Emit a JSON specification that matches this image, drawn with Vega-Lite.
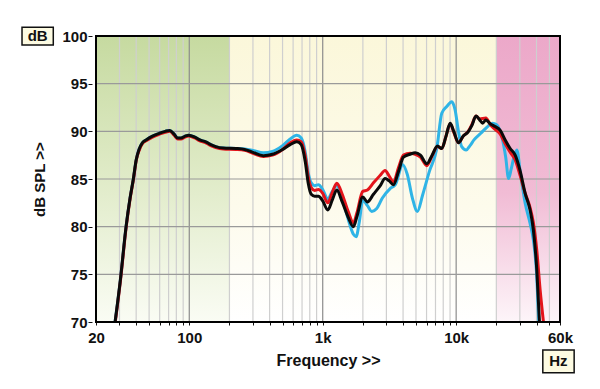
{
  "$schema": "https://vega.github.io/schema/vega-lite/v6.json",
  "width": 464,
  "height": 286,
  "autosize": {"type": "none"},
  "padding": {"left": 96, "top": 36, "right": 40, "bottom": 67},
  "background": "#ffffff",
  "config": {
    "view": {"stroke": null},
    "font": "Liberation Sans",
    "axis": {
      "labelFont": "Liberation Sans",
      "labelFontWeight": "bold",
      "labelFontSize": 15,
      "labelColor": "#111111",
      "titleFont": "Liberation Sans",
      "titleFontWeight": "bold",
      "titleFontSize": 15,
      "titleColor": "#111111",
      "grid": false,
      "domain": false,
      "tickColor": "#111111",
      "tickSize": 4
    }
  },
  "datasets": {
    "bands": [
      {"band": "green", "f0": 20, "f1": 200},
      {"band": "yellow", "f0": 200, "f1": 20000},
      {"band": "pink", "f0": 20000, "f1": 60000}
    ],
    "vgrid": [
      {"f": 30, "major": false}, {"f": 40, "major": false}, {"f": 50, "major": false}, {"f": 60, "major": false}, {"f": 70, "major": false}, {"f": 80, "major": false}, {"f": 90, "major": false},
      {"f": 100, "major": true},
      {"f": 200, "major": false}, {"f": 300, "major": false}, {"f": 400, "major": false}, {"f": 500, "major": false}, {"f": 600, "major": false}, {"f": 700, "major": false}, {"f": 800, "major": false}, {"f": 900, "major": false},
      {"f": 1000, "major": true},
      {"f": 2000, "major": false}, {"f": 3000, "major": false}, {"f": 4000, "major": false}, {"f": 5000, "major": false}, {"f": 6000, "major": false}, {"f": 7000, "major": false}, {"f": 8000, "major": false}, {"f": 9000, "major": false},
      {"f": 10000, "major": true},
      {"f": 20000, "major": false}, {"f": 30000, "major": false}, {"f": 40000, "major": false}, {"f": 50000, "major": false}
    ],
    "hgrid": [{"db": 75}, {"db": 80}, {"db": 85}, {"db": 90}, {"db": 95}],
    "curves": [
      {"s": "black", "f": 27.8, "db": 70}, {"s": "black", "f": 30.5, "db": 74.5}, {"s": "black", "f": 33.6, "db": 80}, {"s": "black", "f": 36, "db": 83}, {"s": "black", "f": 38.1, "db": 85}, {"s": "black", "f": 40, "db": 87}, {"s": "black", "f": 42, "db": 88.1}, {"s": "black", "f": 44.5, "db": 88.8}, {"s": "black", "f": 47.5, "db": 89.1}, {"s": "black", "f": 53, "db": 89.5}, {"s": "black", "f": 59.7, "db": 89.8}, {"s": "black", "f": 66, "db": 90.0}, {"s": "black", "f": 71.4, "db": 90.1}, {"s": "black", "f": 77, "db": 89.7}, {"s": "black", "f": 82, "db": 89.3}, {"s": "black", "f": 86.7, "db": 89.3}, {"s": "black", "f": 93, "db": 89.5}, {"s": "black", "f": 99, "db": 89.6}, {"s": "black", "f": 110, "db": 89.4}, {"s": "black", "f": 120, "db": 89.1}, {"s": "black", "f": 133, "db": 88.9}, {"s": "black", "f": 145, "db": 88.6}, {"s": "black", "f": 158, "db": 88.4}, {"s": "black", "f": 180, "db": 88.25}, {"s": "black", "f": 224, "db": 88.2}, {"s": "black", "f": 260, "db": 88.1}, {"s": "black", "f": 300, "db": 87.8}, {"s": "black", "f": 359, "db": 87.45}, {"s": "black", "f": 420, "db": 87.6}, {"s": "black", "f": 500, "db": 88.1}, {"s": "black", "f": 570, "db": 88.6}, {"s": "black", "f": 639, "db": 88.9}, {"s": "black", "f": 690, "db": 88.6}, {"s": "black", "f": 740, "db": 86.8}, {"s": "black", "f": 780, "db": 84.5}, {"s": "black", "f": 820, "db": 83.4}, {"s": "black", "f": 870, "db": 83.2}, {"s": "black", "f": 929, "db": 83.2}, {"s": "black", "f": 1000, "db": 82.7}, {"s": "black", "f": 1091, "db": 81.75}, {"s": "black", "f": 1180, "db": 82.8}, {"s": "black", "f": 1274, "db": 83.85}, {"s": "black", "f": 1400, "db": 82.6}, {"s": "black", "f": 1550, "db": 81.0}, {"s": "black", "f": 1698, "db": 80.0}, {"s": "black", "f": 1800, "db": 81.0}, {"s": "black", "f": 1995, "db": 83.1}, {"s": "black", "f": 2163, "db": 82.6}, {"s": "black", "f": 2400, "db": 83.4}, {"s": "black", "f": 2700, "db": 84.3}, {"s": "black", "f": 2933, "db": 85.05}, {"s": "black", "f": 3150, "db": 84.8}, {"s": "black", "f": 3388, "db": 84.4}, {"s": "black", "f": 3700, "db": 85.8}, {"s": "black", "f": 4027, "db": 87.3}, {"s": "black", "f": 4518, "db": 87.6}, {"s": "black", "f": 4924, "db": 87.75}, {"s": "black", "f": 5400, "db": 87.5}, {"s": "black", "f": 6026, "db": 86.6}, {"s": "black", "f": 6600, "db": 87.5}, {"s": "black", "f": 7244, "db": 88.45}, {"s": "black", "f": 7800, "db": 88.2}, {"s": "black", "f": 8400, "db": 89.5}, {"s": "black", "f": 9016, "db": 90.85}, {"s": "black", "f": 9600, "db": 90.0}, {"s": "black", "f": 10400, "db": 88.8}, {"s": "black", "f": 11300, "db": 89.5}, {"s": "black", "f": 12300, "db": 89.95}, {"s": "black", "f": 13100, "db": 90.6}, {"s": "black", "f": 14100, "db": 91.6}, {"s": "black", "f": 15000, "db": 91.2}, {"s": "black", "f": 15800, "db": 90.85}, {"s": "black", "f": 16700, "db": 91.2}, {"s": "black", "f": 18000, "db": 90.8}, {"s": "black", "f": 19600, "db": 90.5}, {"s": "black", "f": 21400, "db": 90.1}, {"s": "black", "f": 23300, "db": 89.1}, {"s": "black", "f": 25400, "db": 88.2}, {"s": "black", "f": 27700, "db": 87.5}, {"s": "black", "f": 30100, "db": 85.9}, {"s": "black", "f": 32900, "db": 83.5}, {"s": "black", "f": 35800, "db": 81.75}, {"s": "black", "f": 37900, "db": 79.65}, {"s": "black", "f": 40200, "db": 75.45}, {"s": "black", "f": 42100, "db": 70},

      {"s": "red", "f": 27.9, "db": 70}, {"s": "red", "f": 30.6, "db": 74.5}, {"s": "red", "f": 33.7, "db": 80}, {"s": "red", "f": 36.1, "db": 83}, {"s": "red", "f": 38.2, "db": 85}, {"s": "red", "f": 40.1, "db": 87}, {"s": "red", "f": 42.1, "db": 88.0}, {"s": "red", "f": 44.5, "db": 88.7}, {"s": "red", "f": 47.5, "db": 89.0}, {"s": "red", "f": 53, "db": 89.4}, {"s": "red", "f": 59.7, "db": 89.7}, {"s": "red", "f": 66, "db": 89.9}, {"s": "red", "f": 71.4, "db": 90.0}, {"s": "red", "f": 77, "db": 89.6}, {"s": "red", "f": 82, "db": 89.2}, {"s": "red", "f": 86.7, "db": 89.2}, {"s": "red", "f": 93, "db": 89.4}, {"s": "red", "f": 99, "db": 89.5}, {"s": "red", "f": 110, "db": 89.3}, {"s": "red", "f": 120, "db": 89.0}, {"s": "red", "f": 133, "db": 88.8}, {"s": "red", "f": 145, "db": 88.5}, {"s": "red", "f": 158, "db": 88.3}, {"s": "red", "f": 180, "db": 88.15}, {"s": "red", "f": 224, "db": 88.1}, {"s": "red", "f": 260, "db": 88.0}, {"s": "red", "f": 300, "db": 87.7}, {"s": "red", "f": 359, "db": 87.35}, {"s": "red", "f": 420, "db": 87.5}, {"s": "red", "f": 500, "db": 88.1}, {"s": "red", "f": 570, "db": 88.8}, {"s": "red", "f": 639, "db": 89.1}, {"s": "red", "f": 690, "db": 88.9}, {"s": "red", "f": 740, "db": 87.4}, {"s": "red", "f": 780, "db": 85.2}, {"s": "red", "f": 820, "db": 84.1}, {"s": "red", "f": 870, "db": 83.8}, {"s": "red", "f": 929, "db": 83.9}, {"s": "red", "f": 1000, "db": 83.5}, {"s": "red", "f": 1091, "db": 82.5}, {"s": "red", "f": 1180, "db": 83.6}, {"s": "red", "f": 1274, "db": 84.55}, {"s": "red", "f": 1400, "db": 83.4}, {"s": "red", "f": 1550, "db": 81.6}, {"s": "red", "f": 1698, "db": 80.4}, {"s": "red", "f": 1800, "db": 81.4}, {"s": "red", "f": 1995, "db": 83.7}, {"s": "red", "f": 2163, "db": 83.85}, {"s": "red", "f": 2400, "db": 84.6}, {"s": "red", "f": 2700, "db": 85.4}, {"s": "red", "f": 2933, "db": 85.9}, {"s": "red", "f": 3150, "db": 85.3}, {"s": "red", "f": 3388, "db": 84.7}, {"s": "red", "f": 3700, "db": 86.2}, {"s": "red", "f": 4027, "db": 87.5}, {"s": "red", "f": 4518, "db": 87.7}, {"s": "red", "f": 4924, "db": 87.6}, {"s": "red", "f": 5400, "db": 87.3}, {"s": "red", "f": 6026, "db": 86.4}, {"s": "red", "f": 6600, "db": 87.4}, {"s": "red", "f": 7244, "db": 88.4}, {"s": "red", "f": 7800, "db": 88.2}, {"s": "red", "f": 8400, "db": 89.5}, {"s": "red", "f": 9016, "db": 90.8}, {"s": "red", "f": 9600, "db": 89.9}, {"s": "red", "f": 10400, "db": 88.8}, {"s": "red", "f": 11300, "db": 89.5}, {"s": "red", "f": 12300, "db": 90.0}, {"s": "red", "f": 13100, "db": 90.7}, {"s": "red", "f": 14100, "db": 91.6}, {"s": "red", "f": 15000, "db": 91.3}, {"s": "red", "f": 16700, "db": 91.4}, {"s": "red", "f": 18000, "db": 90.7}, {"s": "red", "f": 19600, "db": 90.2}, {"s": "red", "f": 21400, "db": 89.7}, {"s": "red", "f": 23300, "db": 88.7}, {"s": "red", "f": 25400, "db": 87.8}, {"s": "red", "f": 27700, "db": 87.0}, {"s": "red", "f": 30100, "db": 85.4}, {"s": "red", "f": 32900, "db": 83.5}, {"s": "red", "f": 35800, "db": 82.0}, {"s": "red", "f": 37900, "db": 80.4}, {"s": "red", "f": 40200, "db": 77.5}, {"s": "red", "f": 42600, "db": 73.35}, {"s": "red", "f": 45100, "db": 70},

      {"s": "cyan", "f": 27.8, "db": 70}, {"s": "cyan", "f": 30.5, "db": 74.5}, {"s": "cyan", "f": 33.6, "db": 80}, {"s": "cyan", "f": 36, "db": 83}, {"s": "cyan", "f": 38.1, "db": 85}, {"s": "cyan", "f": 40, "db": 87}, {"s": "cyan", "f": 42, "db": 88.1}, {"s": "cyan", "f": 44.5, "db": 88.8}, {"s": "cyan", "f": 47.5, "db": 89.1}, {"s": "cyan", "f": 53, "db": 89.5}, {"s": "cyan", "f": 59.7, "db": 89.8}, {"s": "cyan", "f": 66, "db": 90.0}, {"s": "cyan", "f": 71.4, "db": 90.1}, {"s": "cyan", "f": 77, "db": 89.7}, {"s": "cyan", "f": 82, "db": 89.3}, {"s": "cyan", "f": 86.7, "db": 89.3}, {"s": "cyan", "f": 93, "db": 89.5}, {"s": "cyan", "f": 99, "db": 89.6}, {"s": "cyan", "f": 110, "db": 89.4}, {"s": "cyan", "f": 120, "db": 89.1}, {"s": "cyan", "f": 133, "db": 88.9}, {"s": "cyan", "f": 145, "db": 88.6}, {"s": "cyan", "f": 158, "db": 88.4}, {"s": "cyan", "f": 180, "db": 88.25}, {"s": "cyan", "f": 224, "db": 88.2}, {"s": "cyan", "f": 260, "db": 88.15}, {"s": "cyan", "f": 300, "db": 88.0}, {"s": "cyan", "f": 359, "db": 87.75}, {"s": "cyan", "f": 420, "db": 87.9}, {"s": "cyan", "f": 500, "db": 88.5}, {"s": "cyan", "f": 570, "db": 89.2}, {"s": "cyan", "f": 639, "db": 89.6}, {"s": "cyan", "f": 690, "db": 89.3}, {"s": "cyan", "f": 740, "db": 87.8}, {"s": "cyan", "f": 780, "db": 85.6}, {"s": "cyan", "f": 820, "db": 84.6}, {"s": "cyan", "f": 870, "db": 84.3}, {"s": "cyan", "f": 929, "db": 84.4}, {"s": "cyan", "f": 1000, "db": 83.9}, {"s": "cyan", "f": 1091, "db": 82.9}, {"s": "cyan", "f": 1180, "db": 83.7}, {"s": "cyan", "f": 1274, "db": 84.3}, {"s": "cyan", "f": 1400, "db": 83.0}, {"s": "cyan", "f": 1550, "db": 80.8}, {"s": "cyan", "f": 1698, "db": 79.2}, {"s": "cyan", "f": 1780, "db": 78.95}, {"s": "cyan", "f": 1880, "db": 80.5}, {"s": "cyan", "f": 1995, "db": 82.8}, {"s": "cyan", "f": 2163, "db": 82.2}, {"s": "cyan", "f": 2330, "db": 81.6}, {"s": "cyan", "f": 2540, "db": 81.9}, {"s": "cyan", "f": 2800, "db": 83.0}, {"s": "cyan", "f": 3200, "db": 84.0}, {"s": "cyan", "f": 3500, "db": 84.4}, {"s": "cyan", "f": 3980, "db": 86.5}, {"s": "cyan", "f": 4300, "db": 85.5}, {"s": "cyan", "f": 4700, "db": 83.0}, {"s": "cyan", "f": 5120, "db": 81.6}, {"s": "cyan", "f": 5600, "db": 83.3}, {"s": "cyan", "f": 6300, "db": 85.8}, {"s": "cyan", "f": 7160, "db": 88.2}, {"s": "cyan", "f": 7800, "db": 91.9}, {"s": "cyan", "f": 8500, "db": 92.6}, {"s": "cyan", "f": 9270, "db": 93.1}, {"s": "cyan", "f": 9800, "db": 92.3}, {"s": "cyan", "f": 10400, "db": 90.0}, {"s": "cyan", "f": 11000, "db": 88.4}, {"s": "cyan", "f": 11900, "db": 88.05}, {"s": "cyan", "f": 12700, "db": 88.5}, {"s": "cyan", "f": 13600, "db": 89.1}, {"s": "cyan", "f": 15300, "db": 89.8}, {"s": "cyan", "f": 17200, "db": 90.5}, {"s": "cyan", "f": 18700, "db": 90.85}, {"s": "cyan", "f": 20100, "db": 90.7}, {"s": "cyan", "f": 22100, "db": 89.3}, {"s": "cyan", "f": 23500, "db": 87.3}, {"s": "cyan", "f": 24700, "db": 85.05}, {"s": "cyan", "f": 25800, "db": 86.0}, {"s": "cyan", "f": 27000, "db": 87.2}, {"s": "cyan", "f": 28500, "db": 88.05}, {"s": "cyan", "f": 30300, "db": 85.6}, {"s": "cyan", "f": 32900, "db": 82.45}, {"s": "cyan", "f": 35800, "db": 80.35}, {"s": "cyan", "f": 37900, "db": 78.6}, {"s": "cyan", "f": 40200, "db": 74.75}, {"s": "cyan", "f": 41600, "db": 70}
    ]
  },
  "layer": [
    {
      "data": {"name": "bands"},
      "transform": [{"filter": "datum.band == 'green'"}],
      "mark": {"type": "rect", "fill": {"gradient": "linear", "x1": 0, "y1": 0, "x2": 0, "y2": 1, "stops": [{"offset": 0, "color": "#c6daa0"}, {"offset": 0.5, "color": "#e0ebc8"}, {"offset": 1, "color": "#fafcf4"}]}},
      "encoding": {
        "x": {
          "field": "f0", "type": "quantitative", "title": "Frequency >>",
          "scale": {"type": "log", "domain": [20, 60000], "nice": false},
          "axis": {
            "values": [20, 30, 40, 50, 60, 70, 80, 90, 100, 200, 300, 400, 500, 600, 700, 800, 900, 1000, 2000, 3000, 4000, 5000, 6000, 7000, 8000, 9000, 10000, 20000, 30000, 40000, 50000, 60000],
            "labelExpr": "datum.value == 20 ? '20' : datum.value == 100 ? '100' : datum.value == 1000 ? '1k' : datum.value == 10000 ? '10k' : datum.value == 60000 ? '60k' : ''",
            "labelPadding": 5,
            "labelFlush": false,
            "labelOverlap": false,
            "tickSize": 3,
            "titlePadding": 7,
            "titleFontSize": 16
          }
        },
        "x2": {"field": "f1"},
        "y": {
          "datum": 100, "type": "quantitative", "title": "dB SPL >>",
          "scale": {"domain": [70, 100], "nice": false, "zero": false},
          "axis": {
            "values": [70, 75, 80, 85, 90, 95, 100],
            "offset": 4,
            "labelPadding": 1,
            "tickSize": 4,
            "titlePadding": 14,
            "titleFontSize": 15
          }
        },
        "y2": {"datum": 70}
      }
    },
    {
      "data": {"name": "bands"},
      "transform": [{"filter": "datum.band == 'yellow'"}],
      "mark": {"type": "rect", "fill": {"gradient": "linear", "x1": 0, "y1": 0, "x2": 0, "y2": 1, "stops": [{"offset": 0, "color": "#fbf7da"}, {"offset": 0.6, "color": "#fdfbec"}, {"offset": 1, "color": "#ffffff"}]}},
      "encoding": {
        "x": {"field": "f0", "type": "quantitative", "title": "Frequency >>"},
        "x2": {"field": "f1"},
        "y": {"datum": 100, "type": "quantitative", "title": "dB SPL >>"},
        "y2": {"datum": 70}
      }
    },
    {
      "data": {"name": "bands"},
      "transform": [{"filter": "datum.band == 'pink'"}],
      "mark": {"type": "rect", "fill": {"gradient": "linear", "x1": 0, "y1": 0, "x2": 0, "y2": 1, "stops": [{"offset": 0, "color": "#eca8c9"}, {"offset": 0.55, "color": "#f1bcd5"}, {"offset": 1, "color": "#fdf5f9"}]}},
      "encoding": {
        "x": {"field": "f0", "type": "quantitative", "title": "Frequency >>"},
        "x2": {"field": "f1"},
        "y": {"datum": 100, "type": "quantitative", "title": "dB SPL >>"},
        "y2": {"datum": 70}
      }
    },
    {
      "data": {"name": "vgrid"},
      "mark": {"type": "rule", "strokeWidth": 1.2},
      "encoding": {
        "x": {"field": "f", "type": "quantitative", "title": "Frequency >>"},
        "y": {"datum": 100, "type": "quantitative", "title": "dB SPL >>"},
        "y2": {"datum": 70},
        "color": {"field": "major", "type": "nominal", "scale": {"domain": [true, false], "range": ["#8c8c8c", "#cfcfcf"]}, "legend": null}
      }
    },
    {
      "data": {"name": "hgrid"},
      "mark": {"type": "rule", "strokeWidth": 1.2, "color": "#9a9a9a"},
      "encoding": {
        "y": {"field": "db", "type": "quantitative", "title": "dB SPL >>"},
        "x": {"datum": 20, "type": "quantitative", "title": "Frequency >>"},
        "x2": {"datum": 60000}
      }
    },
    {
      "data": {"name": "curves"},
      "transform": [{"filter": "datum.s == 'cyan'"}],
      "mark": {"type": "line", "color": "#2fb4e6", "strokeWidth": 3, "interpolate": "monotone", "clip": true},
      "encoding": {
        "x": {"field": "f", "type": "quantitative", "title": "Frequency >>"},
        "y": {"field": "db", "type": "quantitative", "title": "dB SPL >>"}
      }
    },
    {
      "data": {"name": "curves"},
      "transform": [{"filter": "datum.s == 'red'"}],
      "mark": {"type": "line", "color": "#e3141b", "strokeWidth": 3, "interpolate": "monotone", "clip": true},
      "encoding": {
        "x": {"field": "f", "type": "quantitative", "title": "Frequency >>"},
        "y": {"field": "db", "type": "quantitative", "title": "dB SPL >>"}
      }
    },
    {
      "data": {"name": "curves"},
      "transform": [{"filter": "datum.s == 'black'"}],
      "mark": {"type": "line", "color": "#0a0a0a", "strokeWidth": 3, "interpolate": "monotone", "clip": true},
      "encoding": {
        "x": {"field": "f", "type": "quantitative", "title": "Frequency >>"},
        "y": {"field": "db", "type": "quantitative", "title": "dB SPL >>"}
      }
    },
    {
      "data": {"values": [{}]},
      "mark": {"type": "rect", "fill": null, "stroke": "#000000", "strokeWidth": 2},
      "encoding": {
        "x": {"datum": 20, "type": "quantitative", "title": "Frequency >>"},
        "x2": {"datum": 60000},
        "y": {"datum": 100, "type": "quantitative", "title": "dB SPL >>"},
        "y2": {"datum": 70}
      }
    },
    {
      "data": {"values": [{"label": "dB"}]},
      "layer": [
        {
          "mark": {"type": "rect", "fill": "#fdfbe2", "stroke": "#111111", "strokeWidth": 1.5},
          "encoding": {
            "x": {"datum": 5.58, "type": "quantitative", "title": "Frequency >>"},
            "x2": {"datum": 9.57},
            "y": {"datum": 100.91, "type": "quantitative", "title": "dB SPL >>"},
            "y2": {"datum": 99.06}
          }
        },
        {
          "mark": {"type": "text", "font": "Liberation Sans", "fontWeight": "bold", "fontSize": 15, "color": "#111111", "align": "center", "baseline": "middle"},
          "encoding": {
            "x": {"datum": 7.31, "type": "quantitative", "title": "Frequency >>"},
            "y": {"datum": 99.95, "type": "quantitative", "title": "dB SPL >>"},
            "text": {"field": "label"}
          }
        }
      ]
    },
    {
      "data": {"values": [{"label": "Hz"}]},
      "layer": [
        {
          "mark": {"type": "rect", "fill": "#fdfbe2", "stroke": "#111111", "strokeWidth": 1.5},
          "encoding": {
            "x": {"datum": 44600, "type": "quantitative", "title": "Frequency >>"},
            "x2": {"datum": 76600},
            "y": {"datum": 67.06, "type": "quantitative", "title": "dB SPL >>"},
            "y2": {"datum": 64.68}
          }
        },
        {
          "mark": {"type": "text", "font": "Liberation Sans", "fontWeight": "bold", "fontSize": 15, "color": "#111111", "align": "center", "baseline": "middle"},
          "encoding": {
            "x": {"datum": 58400, "type": "quantitative", "title": "Frequency >>"},
            "y": {"datum": 65.87, "type": "quantitative", "title": "dB SPL >>"},
            "text": {"field": "label"}
          }
        }
      ]
    }
  ]
}
